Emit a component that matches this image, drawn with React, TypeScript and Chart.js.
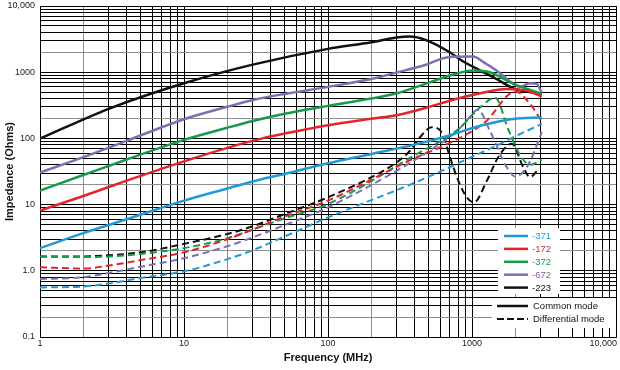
import React, { useEffect, useRef } from 'react';
import { Chart, registerables } from 'chart.js';

Chart.register(...registerables);

const partNumbers = ['-371', '-172', '-372', '-672', '-223'];
const lineColors = ['#1f9ad6', '#e5232a', '#159a48', '#7b6fb6', '#111111'];
const labelColors = ['#2b9fd8', '#e0282d', '#1f9a4c', '#8d5a98', '#111111'];
const modeLabels = ['Common mode', 'Differential mode'];

const xDecades = [1, 10, 100, 1000, 10000];
const xDecadeLabels = ['1', '10', '100', '1000', '10,000'];
const yDecades = [0.1, 1, 10, 100, 1000, 10000];
const yDecadeLabels = ['0.1', '1.0', '10', '100', '1000', '10,000'];
const minorSteps = [1, 2, 3, 4, 5, 6, 7, 8, 9];

// Common mode impedance [MHz, Ohms]
const cm371 = [[1, 2.2], [2, 3.7], [4, 6.0], [10, 11.5], [20, 17.5], [34, 24], [50, 29], [100, 42], [200, 58], [413, 82], [667, 108], [1140, 155], [1560, 182], [1940, 197], [3050, 208]];
const cm172 = [[1, 8.1], [2, 13.5], [4, 23], [10, 45], [20, 72], [35, 100], [50, 118], [100, 158], [200, 198], [300, 224], [480, 290], [700, 370], [1140, 480], [1740, 559], [2400, 527], [3050, 428]];
const cm372 = [[1, 16.3], [2, 28], [4, 48], [10, 95], [20, 145], [30, 183], [50, 235], [100, 310], [200, 400], [300, 480], [460, 650], [700, 890], [1020, 1060], [1330, 1000], [1940, 666], [3050, 470]];
const cm672 = [[1, 30.5], [2, 52], [4, 92], [10, 195], [20, 300], [30, 380], [50, 470], [100, 600], [200, 790], [300, 990], [460, 1260], [700, 1700], [1020, 1720], [1200, 1420], [1480, 1057], [1940, 666], [2150, 600], [2520, 680], [2810, 666], [3050, 490]];
const cm223 = [[1, 99], [3, 280], [10, 680], [30, 1300], [100, 2250], [200, 2830], [300, 3350], [370, 3450], [480, 3050], [700, 2000], [870, 1450], [1140, 1060], [1480, 790], [1940, 570], [2500, 500], [3050, 470]];

// Differential mode impedance [MHz, Ohms]
const dm371 = [[1, 0.56], [2, 0.58], [3, 0.64], [5, 0.78], [10, 0.98], [20, 1.5], [30, 2.05], [50, 3.3], [100, 6.4], [413, 22], [667, 35], [1140, 60], [1560, 82], [1940, 104], [3050, 166]];
const dm172 = [[1, 1.13], [2, 1.08], [3, 1.2], [5, 1.45], [10, 1.9], [20, 3.0], [30, 4.2], [50, 6.6], [100, 11.5], [413, 52], [600, 73], [1230, 175], [2000, 510], [2530, 332], [3050, 180]];
const dm372 = [[1, 1.64], [2, 1.62], [3, 1.64], [5, 1.8], [10, 2.2], [20, 3.1], [30, 4.2], [50, 6.2], [100, 10.2], [413, 58], [783, 131], [1140, 295], [1445, 412], [1800, 131], [2200, 52], [2550, 40], [3050, 48]];
const dm672 = [[1, 0.75], [2, 0.8], [3, 0.93], [5, 1.15], [10, 1.55], [20, 2.35], [30, 3.2], [50, 4.9], [100, 9.1], [413, 49], [600, 83], [700, 104], [880, 165], [1100, 270], [1330, 131], [1740, 37], [2000, 26.5], [2400, 36.6], [2960, 104], [3050, 125]];
const dm223 = [[1, 1.65], [2, 1.65], [3, 1.72], [5, 1.9], [10, 2.55], [20, 3.6], [30, 4.7], [50, 7.2], [100, 12.9], [300, 43.5], [371, 65], [435, 104], [525, 147], [617, 123], [703, 52], [803, 23], [919, 12.9], [1030, 10.8], [1270, 23], [1520, 52], [1890, 83], [2270, 36.6], [2530, 26], [2880, 34]];

const commonMode = [cm371, cm172, cm372, cm672, cm223];
const diffMode = [dm371, dm172, dm372, dm672, dm223];

const FONT = '"Liberation Sans", Arial, Helvetica, sans-serif';

function gridValues(decades: number[]) {
  const vals: number[] = [];
  for (let i = 0; i < decades.length - 1; i++) {
    minorSteps.forEach((m) => vals.push(decades[i] < 1 ? m / Math.round(1 / decades[i]) : m * decades[i]));
  }
  vals.push(decades[decades.length - 1]);
  return vals;
}

function significand(v: number) {
  const e = Math.floor(Math.log10(v) + 1e-9);
  return Math.round(v / Math.pow(10, e));
}

function gridColor(ctx: any) {
  const v = ctx.tick ? ctx.tick.value : 1;
  return significand(v) === 2 ? '#8e8e8e' : '#000000';
}

function toPoints(arr: number[][]) {
  return arr.map(([x, y]) => ({ x, y }));
}

const overlayPlugin = {
  id: 'overlay',
  afterDraw(chart: any) {
    const ctx = chart.ctx;
    const xs = chart.scales.x;
    ctx.save();
    // x tick labels
    ctx.font = `9px ${FONT}`;
    ctx.fillStyle = '#222';
    ctx.textBaseline = 'middle';
    ctx.textAlign = 'left';
    xDecades.forEach((v, i) => {
      const t = xDecadeLabels[i];
      const w = ctx.measureText(t).width;
      let left = xs.getPixelForValue(v) - w / 2;
      left = Math.min(left, 617 - w);
      ctx.fillText(t, left, xs.top + 7);
    });

    // legend: part numbers
    ctx.fillStyle = '#ffffff';
    ctx.fillRect(498, 228, 62, 66);
    ctx.font = `9.5px ${FONT}`;
    partNumbers.forEach((p, i) => {
      const y = 236 + i * 12.9;
      ctx.strokeStyle = lineColors[i];
      ctx.lineWidth = 2.5;
      ctx.setLineDash([]);
      ctx.beginPath();
      ctx.moveTo(504, y);
      ctx.lineTo(528, y);
      ctx.stroke();
      ctx.fillStyle = labelColors[i];
      ctx.fillText(p, 532, y + 0.5);
    });

    // legend: modes
    ctx.fillStyle = '#ffffff';
    ctx.fillRect(492, 298, 124, 30);
    modeLabels.forEach((m, i) => {
      const y = 306 + i * 13;
      ctx.strokeStyle = '#111';
      ctx.lineWidth = i === 0 ? 2.5 : 2;
      ctx.setLineDash(i === 0 ? [] : [7, 3]);
      ctx.beginPath();
      ctx.moveTo(497, y);
      ctx.lineTo(528, y);
      ctx.stroke();
      ctx.fillStyle = '#111';
      ctx.fillText(m, 533, y + 0.5);
    });
    ctx.restore();
  },
};

export default function App() {
  const canvasRef = useRef<HTMLCanvasElement | null>(null);

  useEffect(() => {
    if (!canvasRef.current) return;
    const datasets: any[] = [];
    commonMode.forEach((arr, i) => {
      datasets.push({
        label: partNumbers[i] + ' CM',
        data: toPoints(arr),
        borderColor: lineColors[i],
        borderWidth: 2.5,
        pointRadius: 0,
        cubicInterpolationMode: 'monotone',
        fill: false,
      });
    });
    diffMode.forEach((arr, i) => {
      datasets.push({
        label: partNumbers[i] + ' DM',
        data: toPoints(arr),
        borderColor: lineColors[i],
        borderWidth: 2,
        borderDash: [7, 4],
        pointRadius: 0,
        cubicInterpolationMode: 'monotone',
        fill: false,
      });
    });

    const chart = new Chart(canvasRef.current, {
      type: 'line',
      data: { datasets },
      options: {
        animation: false,
        responsive: false,
        devicePixelRatio: 1,
        layout: { padding: { left: 0, right: 4, top: 6, bottom: 0 } },
        plugins: { legend: { display: false }, tooltip: { enabled: false } },
        scales: {
          x: {
            type: 'logarithmic',
            min: 1,
            max: 10000,
            afterBuildTicks: (scale: any) => {
              scale.ticks = gridValues(xDecades).map((v) => ({ value: v }));
            },
            afterFit: (scale: any) => {
              scale.height = 33;
              scale.paddingLeft = 0;
              scale.paddingRight = 0;
            },
            ticks: { display: false, autoSkip: false },
            grid: { color: gridColor, lineWidth: 1, drawTicks: false },
            border: { display: true, color: '#000', width: 1 },
            title: {
              display: true,
              text: 'Frequency (MHz)',
              color: '#111',
              font: { family: FONT, size: 11, weight: 'bold' },
              padding: { top: 0, bottom: 5 },
            },
          },
          y: {
            type: 'logarithmic',
            min: 0.1,
            max: 10000,
            afterBuildTicks: (scale: any) => {
              scale.ticks = gridValues(yDecades).map((v) => ({ value: v }));
            },
            afterFit: (scale: any) => {
              scale.width = 40;
              scale.paddingTop = 0;
              scale.paddingBottom = 0;
            },
            ticks: {
              autoSkip: false,
              padding: 5,
              color: '#222',
              font: { family: FONT, size: 9 },
              callback: (value: any) => {
                const v = Number(value);
                const idx = yDecades.findIndex((d) => Math.abs(v / d - 1) < 1e-6);
                return idx >= 0 ? yDecadeLabels[idx] : '';
              },
            },
            grid: { color: gridColor, lineWidth: 1, drawTicks: false },
            border: { display: true, color: '#000', width: 1 },
            title: {
              display: true,
              text: 'Impedance (Ohms)',
              color: '#111',
              font: { family: FONT, size: 11, weight: 'bold' },
              padding: { top: 3.4, bottom: 0 },
            },
          },
        },
      },
      plugins: [overlayPlugin],
    } as any);

    return () => chart.destroy();
  }, []);

  return (
    <div style={{ position: 'fixed', left: 0, top: 0, width: 620, height: 370, background: '#fff' }}>
      <canvas ref={canvasRef} width={620} height={370} style={{ width: 620, height: 370, display: 'block' }} />
    </div>
  );
}
